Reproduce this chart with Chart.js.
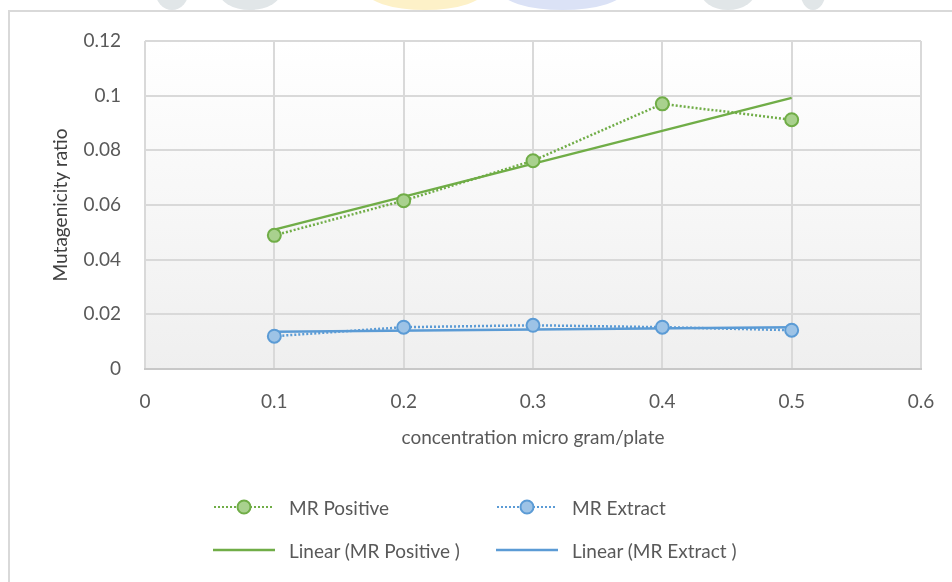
<!DOCTYPE html>
<html>
<head>
<meta charset="utf-8">
<script src="https://cdn.jsdelivr.net/npm/chart.js@4/dist/chart.umd.min.js"></script>
<style>
  html, body { margin: 0; padding: 0; background: #fff; }
  body { width: 952px; height: 582px; position: relative; overflow: hidden; font-family: Lato, "Open Sans", sans-serif; }
  .wm { position: absolute; top: -30px; height: 40px; border-radius: 50%; }
  #frame { position: absolute; left: 8px; top: 10px; width: 960px; height: 600px; border-left: 2px solid #d9d9d9; border-top: 2px solid #d9d9d9; background: #fff; }
  #chart { position: absolute; left: 0; top: 0; }
  .legend { position: absolute; color: #595959; font-size: 19px; display: flex; align-items: center; }
  .legend svg { margin-right: 14px; }
</style>
</head>
<body>
<!-- faint watermark bits peeking out above the chart frame -->
<div class="wm" style="left:155px;width:34px;background:#e1e6e8"></div>
<div class="wm" style="left:218px;width:64px;background:#e1e6e8"></div>
<div class="wm" style="left:365px;width:120px;background:#fdf1c8"></div>
<div class="wm" style="left:500px;width:125px;background:#dbe2f6"></div>
<div class="wm" style="left:700px;width:56px;background:#e1e6e8"></div>
<div class="wm" style="left:800px;width:26px;background:#e1e6e8"></div>
<div id="frame"></div>
<canvas id="chart" width="952" height="582"></canvas>

<div class="legend" style="left:213px;top:494px">
  <svg width="62" height="26"><line x1="1" y1="13" x2="61" y2="13" stroke="#70ad47" stroke-width="2" stroke-dasharray="2,2"/><circle cx="31" cy="13" r="6.5" fill="#a9d18e" stroke="#70ad47" stroke-width="2"/></svg>MR Positive
</div>
<div class="legend" style="left:496px;top:494px">
  <svg width="62" height="26"><line x1="1" y1="13" x2="61" y2="13" stroke="#5b9bd5" stroke-width="2" stroke-dasharray="2,2"/><circle cx="31" cy="13" r="6.5" fill="#9dc3e6" stroke="#5b9bd5" stroke-width="2"/></svg>MR Extract
</div>
<div class="legend" style="left:213px;top:537px">
  <svg width="62" height="26"><line x1="0" y1="13" x2="62" y2="13" stroke="#70ad47" stroke-width="2.5"/></svg>Linear (MR Positive )
</div>
<div class="legend" style="left:496px;top:537px">
  <svg width="62" height="26"><line x1="0" y1="13" x2="62" y2="13" stroke="#5b9bd5" stroke-width="2.5"/></svg>Linear (MR Extract )
</div>

<script>
// concentrations (micro gram/plate)
var concentrations = [0.1, 0.2, 0.3, 0.4, 0.5];
// mutagenicity ratios
var mrPositive = [0.0489, 0.0616, 0.0762, 0.0970, 0.0912];
var mrExtract = [0.0120, 0.0153, 0.0160, 0.0153, 0.0142];
// linear trend lines, end points as drawn
var trendX = [0.1, 0.5];
var trendPositive = [0.0510, 0.0992];
var trendExtract = [0.0136, 0.0153];
// axis ticks
var xTicks = [0, 0.1, 0.2, 0.3, 0.4, 0.5, 0.6];
var yTicks = [0, 0.02, 0.04, 0.06, 0.08, 0.1, 0.12];

var GREEN = '#70ad47', GREEN_FILL = '#a9d18e';
var BLUE = '#5b9bd5', BLUE_FILL = '#9dc3e6';
var TEXT = '#595959';
var FONT = 'Lato, "Open Sans", sans-serif';

function pairs(xs, ys) {
  return xs.map(function (x, i) { return { x: x, y: ys[i] }; });
}

function fmt(v) {
  return String(Math.round(v * 100) / 100);
}

// light vertical gradient behind the plot area
var plotBg = {
  id: 'plotBg',
  beforeDraw: function (chart) {
    var a = chart.chartArea, ctx = chart.ctx;
    var g = ctx.createLinearGradient(0, a.top, 0, a.bottom);
    g.addColorStop(0, '#ffffff');
    g.addColorStop(1, '#efefef');
    ctx.save();
    ctx.fillStyle = g;
    ctx.fillRect(a.left, a.top, a.right - a.left, a.bottom - a.top);
    ctx.restore();
  }
};

new Chart(document.getElementById('chart').getContext('2d'), {
  type: 'scatter',
  data: {
    datasets: [
      {
        label: 'Linear (MR Positive )',
        data: pairs(trendX, trendPositive),
        showLine: true,
        borderColor: GREEN,
        borderWidth: 2.5,
        pointRadius: 0,
        order: 3
      },
      {
        label: 'Linear (MR Extract )',
        data: pairs(trendX, trendExtract),
        showLine: true,
        borderColor: BLUE,
        borderWidth: 2.5,
        pointRadius: 0,
        order: 4
      },
      {
        label: 'MR Positive',
        data: pairs(concentrations, mrPositive),
        showLine: true,
        borderColor: GREEN,
        borderWidth: 2.5,
        borderDash: [2, 2],
        pointRadius: 6.5,
        pointBackgroundColor: GREEN_FILL,
        pointBorderColor: GREEN,
        pointBorderWidth: 2,
        order: 1
      },
      {
        label: 'MR Extract',
        data: pairs(concentrations, mrExtract),
        showLine: true,
        borderColor: BLUE,
        borderWidth: 2.5,
        borderDash: [2, 2],
        pointRadius: 6.5,
        pointBackgroundColor: BLUE_FILL,
        pointBorderColor: BLUE,
        pointBorderWidth: 2,
        order: 2
      }
    ]
  },
  options: {
    responsive: false,
    animation: false,
    layout: { padding: { left: 49, top: 41, right: 31, bottom: 133 } },
    plugins: {
      legend: { display: false },
      tooltip: { enabled: false }
    },
    scales: {
      x: {
        type: 'linear',
        min: 0,
        max: 0.6,
        afterBuildTicks: function (axis) {
          axis.ticks = xTicks.map(function (v) { return { value: v }; });
        },
        afterFit: function (axis) {
          axis.height = 80;
          axis.paddingLeft = 0;
          axis.paddingRight = 0;
        },
        ticks: { color: TEXT, font: { family: FONT, size: 19 }, padding: 21, callback: fmt },
        grid: { color: '#d9d9d9', lineWidth: 2, drawTicks: false },
        border: { color: '#c8c8c8', width: 2 },
        title: { display: true, text: 'concentration micro gram/plate', color: TEXT, font: { family: FONT, size: 19 }, padding: { top: 0, bottom: 0 } }
      },
      y: {
        min: 0,
        max: 0.12,
        afterBuildTicks: function (axis) {
          axis.ticks = yTicks.map(function (v) { return { value: v }; });
        },
        afterFit: function (axis) { axis.width = 96; },
        ticks: { color: TEXT, font: { family: FONT, size: 19 }, padding: 24, callback: fmt },
        grid: { color: '#d9d9d9', lineWidth: 2, drawTicks: false },
        border: { display: false },
        title: { display: true, text: 'Mutagenicity ratio', color: '#404040', font: { family: FONT, size: 19 }, padding: { top: 0, bottom: 0 } }
      }
    }
  },
  plugins: [plotBg]
});
</script>
</body>
</html>
